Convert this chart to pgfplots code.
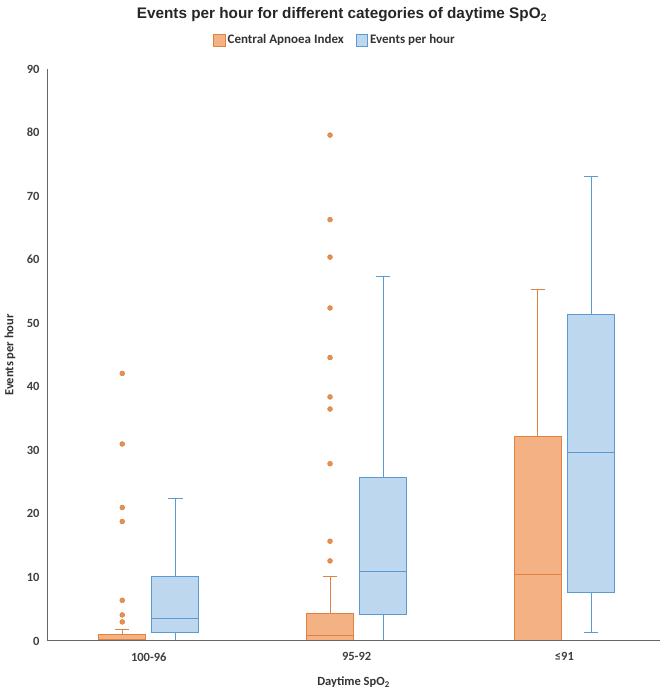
\documentclass[border=0pt]{standalone}
\usepackage{pgfplots}
\pgfplotsset{compat=1.18}
\usepgfplotslibrary{statistics}
\usetikzlibrary{calc}
\usepackage{fontspec}
\setmainfont{Carlito}
\newfontfamily\arialfont{Liberation Sans}
\definecolor{orfill}{HTML}{F4B183}
\definecolor{oredge}{HTML}{DE8344}
\definecolor{blfill}{HTML}{BDD7EE}
\definecolor{bledge}{HTML}{5B9BD5}
\definecolor{outl}{HTML}{E8904F}

\begin{document}
\begin{tikzpicture}
\begin{axis}[
  scale only axis, width=613pt, height=572pt,
  xmin=-0.49, xmax=2.46, ymin=0, ymax=90,
  clip=false, axis on top,
  axis x line*=bottom, axis y line*=left,
  axis line style={draw=black!60, line width=1pt, -},
  xtick={0,1,2}, xticklabels={100-96,95-92,≤91},
  ytick={0,10,...,90},
  major tick length=0pt,
  /pgf/number format/assume math mode=true,
  tick label style={font=\bfseries\fontsize{12.5}{14}\selectfont, text=black!75},
  yticklabel style={xshift=-4pt},
  xticklabel style={yshift=-8pt},
  legend style={draw=none, at={(rel axis cs:0.47,1)}, anchor=center, yshift=29pt,
    legend columns=2, font=\bfseries\fontsize{13}{15}\selectfont, text=black!80,
    /tikz/every even column/.append style={column sep=10pt}},
  legend image code/.code={\draw[#1] (0pt,-6pt) rectangle (11.5pt,6pt);},
  boxplot/draw direction=y,
  boxplot/box extend=0.226,
  boxplot/whisker extend=0.07,
]
\addlegendimage{fill=orfill, draw=oredge, line width=0.8pt}
\addlegendentry{Central Apnoea Index}
\addlegendimage{fill=blfill, draw=bledge, line width=0.8pt}
\addlegendentry{Events per hour}

% 100-96
\addplot[forget plot, boxplot prepared={draw position=-0.128,
  lower whisker=0, lower quartile=0, median=0.3, upper quartile=1.0, upper whisker=1.8},
  draw=oredge, fill=orfill, line width=1pt] coordinates {};
\addplot[forget plot, boxplot prepared={draw position=0.128,
  lower whisker=0, lower quartile=1.4, median=3.6, upper quartile=10.1, upper whisker=22.4},
  draw=bledge, fill=blfill, line width=1pt] coordinates {};
% 95-92
\addplot[forget plot, boxplot prepared={draw position=0.872,
  lower whisker=0, lower quartile=0, median=0.9, upper quartile=4.4, upper whisker=10.1},
  draw=oredge, fill=orfill, line width=1pt] coordinates {};
\addplot[forget plot, boxplot prepared={draw position=1.128,
  lower whisker=0, lower quartile=4.1, median=10.9, upper quartile=25.8, upper whisker=57.4},
  draw=bledge, fill=blfill, line width=1pt] coordinates {};
% <=91
\addplot[forget plot, boxplot prepared={draw position=1.872,
  lower whisker=0, lower quartile=0, median=10.5, upper quartile=32.2, upper whisker=55.3},
  draw=oredge, fill=orfill, line width=1pt] coordinates {};
\addplot[forget plot, boxplot prepared={draw position=2.128,
  lower whisker=1.3, lower quartile=7.7, median=29.7, upper quartile=51.3, upper whisker=73.1},
  draw=bledge, fill=blfill, line width=1pt] coordinates {};

% outliers
\addplot[forget plot, only marks, mark=*, mark size=2.4pt,
  mark options={fill=outl, draw=oredge, line width=0.6pt}] coordinates {
  (-0.128,42.1) (-0.128,31.0) (-0.128,21.0) (-0.128,18.8) (-0.128,6.4) (-0.128,4.1) (-0.128,3.0)
  (0.872,79.6) (0.872,66.3) (0.872,60.4) (0.872,52.4) (0.872,44.6) (0.872,38.4) (0.872,36.5)
  (0.872,27.9) (0.872,15.7) (0.872,12.6)
};
\end{axis}
\node[rotate=90, font=\bfseries\fontsize{12.5}{14}\selectfont, text=black!80]
  at ($(current axis.west)+(-37pt,0pt)$) {Events per hour};
\node[font=\bfseries\fontsize{12.5}{14}\selectfont, text=black!80]
  at ($(current axis.south)+(0pt,-41pt)$) {Daytime SpO\textsubscript{2}};
\node[font=\arialfont\bfseries\fontsize{15.3}{17}\selectfont, text=black!85]
  at ($(current axis.north west)+(295pt,54pt)$) {Events per hour for different categories of daytime SpO\textsubscript{2}};
\path ($(current axis.south west)+(-47pt,-52pt)$) rectangle ($(current axis.north east)+(11pt,69pt)$);
\end{tikzpicture}
\end{document}
